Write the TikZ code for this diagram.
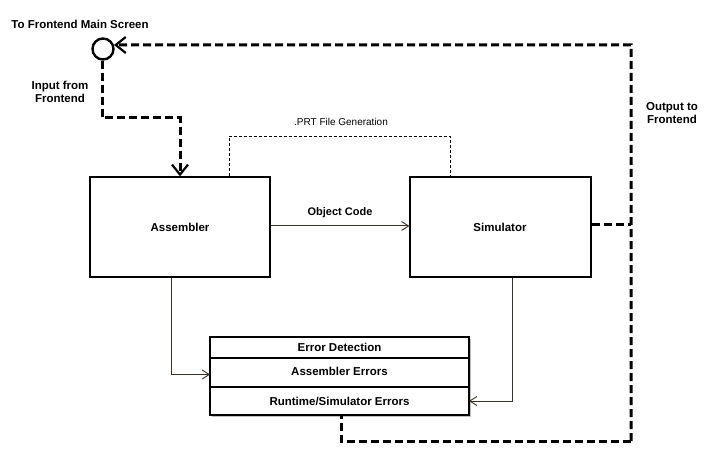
\documentclass[tikz,border=0pt]{standalone}
\usepackage{fontspec}
\setmainfont{Liberation Sans}
\usetikzlibrary{arrows.meta}
\definecolor{conn}{HTML}{3B3226}
\begin{document}
\begin{tikzpicture}[x=1pt,y=-1pt,
  box/.style={draw=black,line width=1.3pt,fill=white,inner sep=0pt},
  lbl/.style={font=\fontsize{11.5}{13}\selectfont\bfseries,align=center,inner sep=0pt},
  small/.style={font=\fontsize{10}{12}\selectfont,inner sep=0pt},
  thinconn/.style={draw=conn,line width=1pt,-{Straight Barb[length=7pt,width=9pt,line width=0.9pt]}},
  thickdash/.style={draw=black,line width=3pt,dash pattern=on 8pt off 4pt},
  dasharrow/.style={thickdash,-{Straight Barb[length=10pt,width=16pt,line width=2.2pt]}},
  prtline/.style={draw=black,line width=0.8pt,dash pattern=on 3pt off 2pt}
]
\useasboundingbox (0,0) rectangle (712,465);
\fill[white] (0,0) rectangle (712,465);

% main boxes
\node[box,minimum width=180pt,minimum height=100pt] (asm) at (180,227) {};
\node[lbl] (asmt) at (180,227) {Assembler};
\node[box,minimum width=181pt,minimum height=100pt] (sim) at (500.5,227) {};
\node[lbl] (simt) at (500,227) {Simulator};

% error detection box
\fill[gray!50] (212,339) rectangle (471,417);
\node[box,minimum width=259pt,minimum height=78pt] (err) at (339.5,376) {};
\draw[line width=1.1pt] (210,358) -- (469,358);
\draw[line width=1.1pt] (210,387) -- (469,387);
\node[lbl] (errt) at (339.5,347.5) {Error Detection};
\node[lbl] (erra) at (339.5,371.5) {Assembler Errors};
\node[lbl] (errs) at (339.5,401) {Runtime/Simulator Errors};
\coordinate (errain) at (210,374.5);
\coordinate (errsin) at (469,401);

% circle (frontend main screen)
\node[draw=black,line width=2.4pt,circle,minimum size=21pt,inner sep=0pt] (circ) at (103,49) {};
\node[lbl] (tofront) at (80,24) {To Frontend Main Screen};
\node[lbl] (infront) at (60,92) {Input from\\Frontend};
\node[lbl] (outfront) at (672,113) {Output to\\Frontend};

% object code
\draw[thinconn] (asm.east |- 0,226) -- (sim.west |- 0,226) node[midway,above=8pt,lbl,font=\fontsize{11}{13}\selectfont\bfseries] (oc) {Object Code};

% PRT file generation
\coordinate (p1) at (229,136);
\coordinate (p2) at (450,136);
\draw[prtline] (asm.north -| p1) -- (p1) -- (p2) -- (sim.north -| p2);
\node[small] (prt) at (341,122) {.PRT File Generation};

% assembler -> error, simulator -> error
\coordinate (a1) at (171,374.5);
\draw[thinconn] (asm.south -| a1) -- (a1) -- (errain);
\coordinate (s1) at (512,401);
\draw[thinconn] (sim.south -| s1) -- (s1) -- (errsin);

% input from frontend
\coordinate (i1) at (102,118);
\coordinate (i2) at (180,118);
\draw[dasharrow] (circ.south -| i1) -- (i1) -- (i2) -- (asm.north);

% output to frontend
\coordinate (o1) at (631,225);
\coordinate (o2) at (631,45);
\coordinate (o3) at (631,441);
\coordinate (o4) at (341,441);
\draw[thickdash] (sim.east |- o1) -- (o1);
\draw[dasharrow] (o3) -- (o2) -- (circ.20 -| 200,0) -- (circ.20);
\draw[thickdash] (o3) -- (o4) -- (err.south -| o4);
\end{tikzpicture}
\end{document}
